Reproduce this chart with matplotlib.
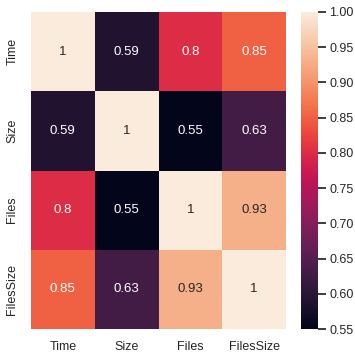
import numpy as np
import pandas as pd
import seaborn as sns
import matplotlib.pyplot as plt

# pairwise correlation between the benchmark columns
cols = ["Time", "Size", "Files", "FilesSize"]
corr_vals = [
    [1.00, 0.59, 0.80, 0.85],
    [0.59, 1.00, 0.55, 0.63],
    [0.80, 0.55, 1.00, 0.93],
    [0.85, 0.63, 0.93, 1.00],
]
corr = pd.DataFrame(corr_vals, index=cols, columns=cols)

sns.set()
plt.rcParams['font.family'] = ['Liberation Sans', 'DejaVu Sans']

fig = plt.figure(figsize=(3.55, 3.52), dpi=100)
ax = fig.add_axes([31 / 355, 23 / 352, 255 / 355, 317 / 352])
cax = fig.add_axes([301 / 355, 23 / 352, 17 / 355, 317 / 352])
sns.heatmap(corr, annot=True, ax=ax, cbar_ax=cax, annot_kws={"size": 9.5})
ax.tick_params(labelsize=9, pad=3)
cax.tick_params(labelsize=9, pad=2)
fig.savefig("out.png", dpi=100)
